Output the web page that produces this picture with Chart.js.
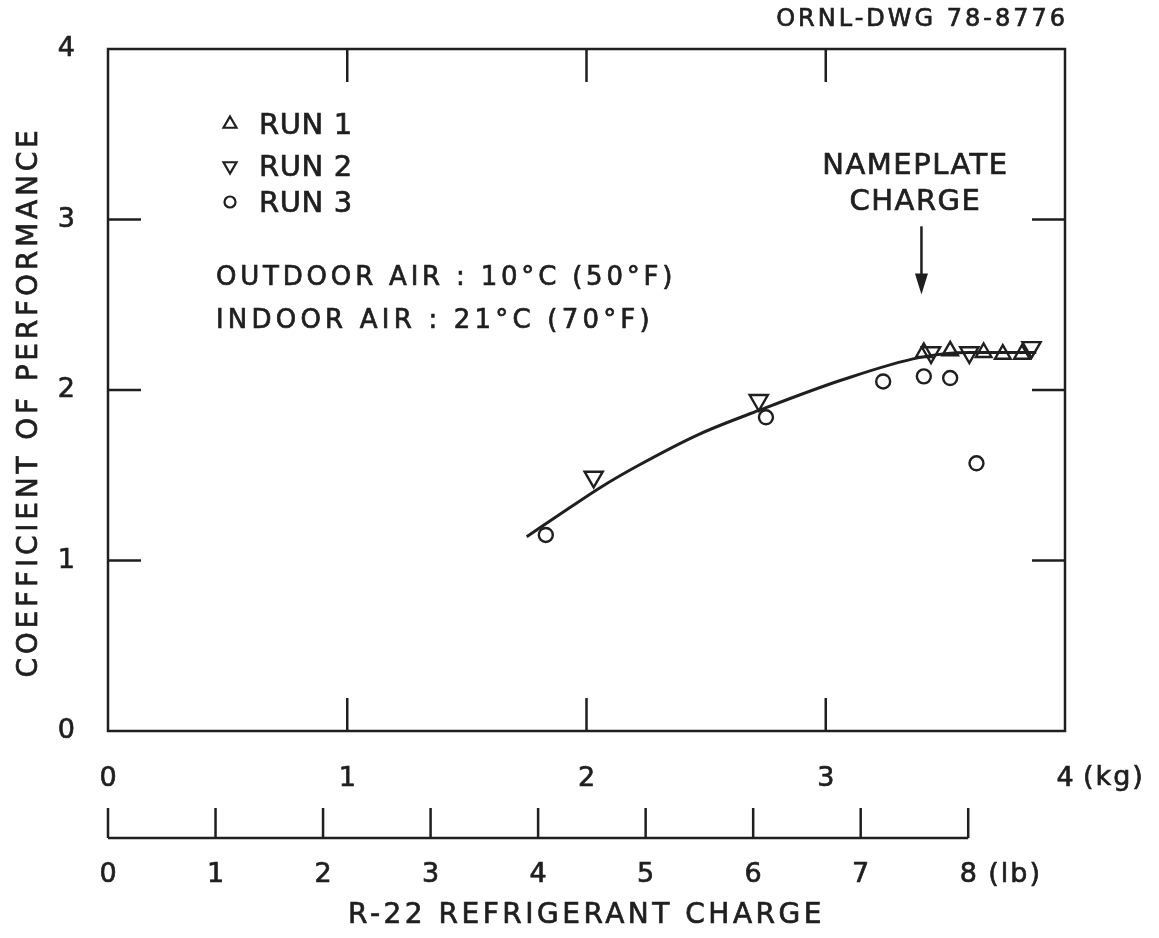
<!DOCTYPE html>
<html>
<head>
<meta charset="utf-8">
<script src="https://cdn.jsdelivr.net/npm/chart.js@4/dist/chart.umd.min.js"></script>
<style>
  html, body { margin: 0; padding: 0; background: #ffffff; }
  #wrap { width: 1159px; height: 938px; position: relative; }
</style>
</head>
<body>
<div id="wrap"><canvas id="cop"></canvas></div>
<script>
// R-22 charge (kg) vs coefficient of performance
const run1Kg  = [3.41, 3.52, 3.66, 3.74, 3.82];
const run1Cop = [2.22, 2.23, 2.22, 2.21, 2.21];
const run2Kg  = [2.03, 2.72, 3.44, 3.60, 3.86];
const run2Cop = [1.49, 1.94, 2.22, 2.22, 2.25];
const run3Kg  = [1.83, 2.75, 3.24, 3.41, 3.52, 3.63];
const run3Cop = [1.15, 1.84, 2.05, 2.08, 2.07, 1.57];
// hand-drawn curve through the runs
const fitKg   = [1.75, 1.92, 2.06, 2.22, 2.47, 2.72, 3.07, 3.39, 3.60, 3.88];
const fitCop  = [1.14, 1.30, 1.43, 1.56, 1.74, 1.88, 2.06, 2.19, 2.22, 2.22];

const kgTicks  = [0, 1, 2, 3, 4];
const lbTicks  = [0, 1, 2, 3, 4, 5, 6, 7, 8];
const copTicks = [0, 1, 2, 3, 4];
const innerTicks = [1, 2, 3];
const nameplateKg = 3.4;

const INK = '#1f1f1f';
const FONT = '"DejaVu Sans", sans-serif';

const pts = (xs, ys) => xs.map((x, i) => ({ x: x, y: ys[i] }));

function txt(ctx, s, x, y, size, align, spacing) {
  ctx.save();
  ctx.font = size + 'px ' + FONT;
  ctx.fillStyle = INK;
  ctx.strokeStyle = INK;
  ctx.lineWidth = 0.7;
  ctx.textAlign = align || 'left';
  ctx.textBaseline = 'middle';
  ctx.letterSpacing = (spacing || 0) + 'px';
  ctx.fillText(s, x, y);
  ctx.strokeText(s, x, y);
  ctx.restore();
}

const framePlugin = {
  id: 'frame',
  afterDraw(chart) {
    const { ctx, chartArea: a, scales } = chart;
    const xs = scales.x, ys = scales.y, lb = scales.xlb;
    ctx.save();
    ctx.strokeStyle = INK;
    ctx.lineWidth = 2.5;
    ctx.strokeRect(a.left, a.top, a.right - a.left, a.bottom - a.top);
    ctx.beginPath();
    innerTicks.forEach(v => {
      const px = xs.getPixelForValue(v);
      ctx.moveTo(px, a.top); ctx.lineTo(px, a.top + 33);
      ctx.moveTo(px, a.bottom); ctx.lineTo(px, a.bottom - 33);
      const py = ys.getPixelForValue(v);
      ctx.moveTo(a.left, py); ctx.lineTo(a.left + 33, py);
      ctx.moveTo(a.right, py); ctx.lineTo(a.right - 33, py);
    });
    // pound scale
    const lineY = lb.top + 38;
    ctx.moveTo(lb.getPixelForValue(0), lineY);
    ctx.lineTo(lb.getPixelForValue(8), lineY);
    lbTicks.forEach(v => {
      const px = lb.getPixelForValue(v);
      ctx.moveTo(px, lineY); ctx.lineTo(px, lineY - 30);
    });
    ctx.stroke();

    // nameplate arrow
    const ax = xs.getPixelForValue(nameplateKg);
    const aTop = ys.getPixelForValue(2.96), aTip = ys.getPixelForValue(2.56);
    ctx.beginPath();
    ctx.moveTo(ax, aTop); ctx.lineTo(ax, aTip - 18);
    ctx.stroke();
    ctx.fillStyle = INK;
    ctx.beginPath();
    ctx.moveTo(ax - 6.5, aTip - 21); ctx.lineTo(ax + 6.5, aTip - 21); ctx.lineTo(ax, aTip);
    ctx.closePath(); ctx.fill();
    ctx.restore();

    txt(ctx, 'NAMEPLATE', ax - 6, 166, 29, 'center', 1.5);
    txt(ctx, 'CHARGE', ax - 6, 202, 29, 'center', 1.5);
    txt(ctx, 'ORNL-DWG 78-8776', 1068, 20, 24, 'right', 3);
    txt(ctx, 'OUTDOOR AIR : 10°C (50°F)', 216, 278, 26, 'left', 3.8);
    txt(ctx, 'INDOOR AIR : 21°C (70°F)', 216, 321, 26, 'left', 4.2);
    txt(ctx, '(kg)', xs.getPixelForValue(4) + 18, 778, 27, 'left', 2);
    txt(ctx, '(lb)', lb.getPixelForValue(8) + 20, 875, 27, 'left', 2);
    txt(ctx, 'R-22 REFRIGERANT CHARGE', (a.left + a.right) / 2, 916, 28, 'center', 3.5);

    ctx.save();
    ctx.translate(30, (a.top + a.bottom) / 2 + 12);
    ctx.rotate(-Math.PI / 2);
    txt(ctx, 'COEFFICIENT OF PERFORMANCE', 0, 0, 28, 'center', 3.8);
    ctx.restore();

    // key
    const key = [
      { label: 'RUN 1', style: 'triangle', rot: 0, y: 124 },
      { label: 'RUN 2', style: 'triangle', rot: 180, y: 166 },
      { label: 'RUN 3', style: 'circle', rot: 0, y: 202 }
    ];
    key.forEach(k => {
      ctx.save();
      ctx.strokeStyle = INK;
      ctx.fillStyle = 'rgba(0,0,0,0)';
      ctx.lineWidth = 2.2;
      Chart.helpers.drawPoint(ctx, { pointStyle: k.style, rotation: k.rot, radius: k.style === 'circle' ? 5.5 : 7.5, borderWidth: 2.2 }, 230, k.y);
      ctx.restore();
      txt(ctx, k.label, 259, k.y + 2, 29, 'left', 0.6);
    });
  }
};

const marker = {
  showLine: false,
  backgroundColor: 'rgba(0,0,0,0)',
  borderColor: INK,
  pointBorderWidth: 2.4
};

const tickFont = { color: INK, textStrokeColor: INK, textStrokeWidth: 0.7, font: { family: FONT, size: 27 } };

new Chart(document.getElementById('cop'), {
  type: 'scatter',
  data: {
    datasets: [
      Object.assign({ label: 'RUN 1', data: pts(run1Kg, run1Cop), pointStyle: 'triangle', pointRadius: 9 }, marker),
      Object.assign({ label: 'RUN 2', data: pts(run2Kg, run2Cop), pointStyle: 'triangle', rotation: 180, pointRotation: 180, pointRadius: 10.5 }, marker),
      Object.assign({ label: 'RUN 3', data: pts(run3Kg, run3Cop), pointStyle: 'circle', pointRadius: 7 }, marker),
      {
        label: 'fit',
        data: pts(fitKg, fitCop),
        showLine: true,
        borderColor: INK,
        borderWidth: 3,
        pointRadius: 0,
        cubicInterpolationMode: 'monotone',
        fill: false
      }
    ]
  },
  options: {
    responsive: true,
    maintainAspectRatio: false,
    animation: false,
    layout: { padding: { left: 0, top: 49, right: 94, bottom: 0 } },
    plugins: { legend: { display: false }, tooltip: { enabled: false } },
    scales: {
      x: {
        type: 'linear', position: 'bottom', min: 0, max: 4, weight: 0,
        grid: { display: false }, border: { display: false },
        afterBuildTicks: s => { s.ticks = kgTicks.map(v => ({ value: v })); },
        afterFit: s => { s.height = 69; },
        ticks: Object.assign({ padding: 24 }, tickFont)
      },
      xlb: {
        type: 'linear', position: 'bottom', min: 0, max: 8.9, weight: 1,
        grid: { display: false }, border: { display: false },
        afterBuildTicks: s => { s.ticks = lbTicks.map(v => ({ value: v })); },
        afterFit: s => { s.height = 138; },
        ticks: Object.assign({ padding: 51 }, tickFont)
      },
      y: {
        type: 'linear', position: 'left', min: 0, max: 4,
        grid: { display: false }, border: { display: false },
        afterBuildTicks: s => { s.ticks = copTicks.map(v => ({ value: v })); },
        afterFit: s => { s.width = 108; },
        ticks: Object.assign({ padding: 25 }, tickFont)
      }
    }
  },
  plugins: [framePlugin]
});
</script>
</body>
</html>
